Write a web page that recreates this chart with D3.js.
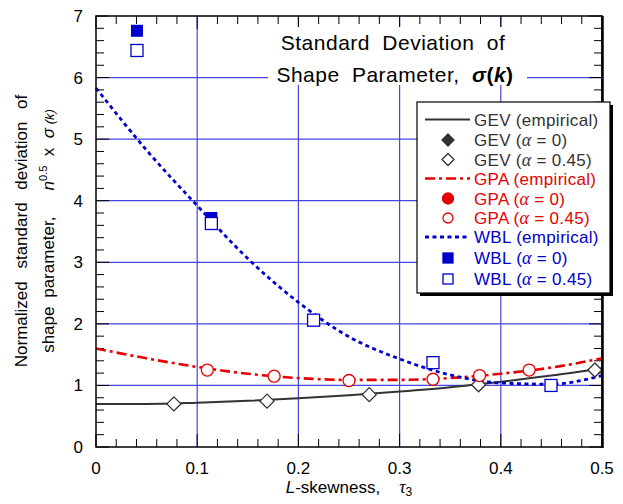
<!DOCTYPE html>
<html><head><meta charset="utf-8">
<script src="https://cdn.jsdelivr.net/npm/d3@7"></script>
<style>body{margin:0;background:#fff} svg{display:block;font-family:"Liberation Sans",Arial,sans-serif}</style>
</head><body><svg id="c" width="623" height="504"></svg>
<script>
// ---------- data ----------
const tauGrid = [0, 0.05, 0.1, 0.15, 0.2, 0.25, 0.3, 0.35, 0.4, 0.45, 0.5];
const gevEmp  = [0.70, 0.70, 0.72, 0.75, 0.79, 0.84, 0.90, 0.97, 1.06, 1.16, 1.28];
const gpaEmp  = [1.60, 1.44, 1.30, 1.19, 1.12, 1.09, 1.09, 1.12, 1.19, 1.29, 1.44];
const wblEmp  = [5.83, 4.82, 3.92, 3.06, 2.35, 1.79, 1.43, 1.17, 1.04, 1.02, 1.16];

const gevTau45 = [0.077, 0.169, 0.270, 0.378, 0.493];
const gevSd45  = [0.70, 0.745, 0.85, 1.01, 1.25];
const gpaTau45 = [0.110, 0.176, 0.250, 0.333, 0.379, 0.428];
const gpaSd45  = [1.25, 1.15, 1.08, 1.10, 1.16, 1.25];
const wblTau0  = [0.0405, 0.114];
const wblSd0   = [6.76, 3.72];
const wblTau45 = [0.0405, 0.114, 0.215, 0.333, 0.4496];
const wblSd45  = [6.44, 3.63, 2.06, 1.37, 1.0];

const xTicks = [0, 0.1, 0.2, 0.3, 0.4, 0.5];
const yTicks = [0, 1, 2, 3, 4, 5, 6, 7];
const xTickLabels = ["0", "0.1", "0.2", "0.3", "0.4", "0.5"];
const yTickLabels = ["0", "1", "2", "3", "4", "5", "6", "7"];

// ---------- layout ----------
const svg = d3.select("#c");
const L = 96, R = 602, T = 16, B = 447;
const x = d3.scaleLinear().domain([0, 0.5]).range([L, R]);
const y = d3.scaleLinear().domain([0, 7]).range([B, T]);
const GRID = "#4646e0", GEVC = "#333333", GPAC = "#e60000", WBLC = "#0000cc";

// grid
svg.append("g").selectAll("line").data(xTicks.slice(1, -1)).join("line")
  .attr("x1", d => x(d)).attr("x2", d => x(d)).attr("y1", T).attr("y2", B)
  .attr("stroke", GRID).attr("stroke-width", 1.2);
svg.append("g").selectAll("line").data(yTicks.slice(1, -1)).join("line")
  .attr("y1", d => y(d)).attr("y2", d => y(d)).attr("x1", L).attr("x2", R)
  .attr("stroke", GRID).attr("stroke-width", 1.2);

// ticks (inside, all four sides)
const xMinor = d3.range(0, 0.5001, 0.02);
const yMinor = d3.range(0, 7.001, 0.2);
const tk = svg.append("g").attr("stroke", "#000").attr("stroke-width", 1);
xMinor.forEach(v => {
  const major = xTicks.some(t => Math.abs(t - v) < 1e-6);
  const len = major ? 13 : 8;
  tk.append("line").attr("x1", x(v)).attr("x2", x(v)).attr("y1", B).attr("y2", B - len);
  tk.append("line").attr("x1", x(v)).attr("x2", x(v)).attr("y1", T).attr("y2", T + len);
});
yMinor.forEach(v => {
  const major = yTicks.some(t => Math.abs(t - v) < 1e-6);
  const len = major ? 13 : 8;
  tk.append("line").attr("y1", y(v)).attr("y2", y(v)).attr("x1", L).attr("x2", L + len);
  tk.append("line").attr("y1", y(v)).attr("y2", y(v)).attr("x1", R).attr("x2", R - len);
});

// title background + title
svg.append("rect").attr("x", 268).attr("y", 27).attr("width", 259).attr("height", 58).attr("fill", "#fff");
const title = svg.append("text").attr("text-anchor", "middle").attr("font-size", 21)
  .attr("letter-spacing", 0.5).attr("word-spacing", 6).attr("fill", "#000");
title.append("tspan").attr("x", 393).attr("y", 50).text("Standard Deviation of");
const t2 = title.append("tspan").attr("x", 395).attr("y", 82);
t2.text("Shape Parameter, ");
title.append("tspan").attr("font-weight", "bold").attr("font-style", "italic").text("σ");
title.append("tspan").attr("font-weight", "bold").text("(");
title.append("tspan").attr("font-weight", "bold").attr("font-style", "italic").text("k");
title.append("tspan").attr("font-weight", "bold").text(")");

// curves
const line = d3.line().x(d => x(d[0])).y(d => y(d[1])).curve(d3.curveMonotoneX);
svg.append("path").datum(tauGrid.map((t, i) => [t, gevEmp[i]])).attr("d", line)
  .attr("fill", "none").attr("stroke", GEVC).attr("stroke-width", 2);
svg.append("path").datum(tauGrid.map((t, i) => [t, gpaEmp[i]])).attr("d", line)
  .attr("fill", "none").attr("stroke", GPAC).attr("stroke-width", 2.6).attr("stroke-dasharray", "10,4,3,4");
svg.append("path").datum(tauGrid.map((t, i) => [t, wblEmp[i]])).attr("d", line)
  .attr("fill", "none").attr("stroke", WBLC).attr("stroke-width", 2.8).attr("stroke-dasharray", "4,3.5");

// markers
const diamond = (s) => `M0,${-s}L${s},0L0,${s}L${-s},0Z`;
svg.append("g").selectAll("path").data(gevTau45.map((t, i) => [t, gevSd45[i]])).join("path")
  .attr("transform", d => `translate(${x(d[0])},${y(d[1])})`).attr("d", diamond(7))
  .attr("fill", "#fff").attr("stroke", GEVC).attr("stroke-width", 1.3);
svg.append("g").selectAll("circle").data(gpaTau45.map((t, i) => [t, gpaSd45[i]])).join("circle")
  .attr("cx", d => x(d[0])).attr("cy", d => y(d[1])).attr("r", 6)
  .attr("fill", "#fff").attr("stroke", GPAC).attr("stroke-width", 1.3);
svg.append("g").selectAll("rect").data(wblTau0.map((t, i) => [t, wblSd0[i]])).join("rect")
  .attr("x", d => x(d[0]) - 6).attr("y", d => y(d[1]) - 6).attr("width", 12).attr("height", 12)
  .attr("fill", WBLC);
svg.append("g").selectAll("rect").data(wblTau45.map((t, i) => [t, wblSd45[i]])).join("rect")
  .attr("x", d => x(d[0]) - 6).attr("y", d => y(d[1]) - 6).attr("width", 12).attr("height", 12)
  .attr("fill", "#fff").attr("stroke", WBLC).attr("stroke-width", 1.3);

// frame
svg.append("rect").attr("x", L).attr("y", T).attr("width", R - L).attr("height", B - T)
  .attr("fill", "none").attr("stroke", "#000").attr("stroke-width", 1.5);
svg.append("line").attr("x1", R + 0.5).attr("x2", R + 0.5).attr("y1", T).attr("y2", B + 1)
  .attr("stroke", "#000").attr("stroke-width", 2.5);

// tick labels
svg.append("g").attr("font-size", 17).attr("text-anchor", "middle").selectAll("text")
  .data(xTicks).join("text").attr("x", d => x(d)).attr("y", 474).text((d, i) => xTickLabels[i]);
svg.append("g").attr("font-size", 17).attr("text-anchor", "end").selectAll("text")
  .data(yTicks).join("text").attr("x", 83).attr("y", d => y(d) + 6).text((d, i) => yTickLabels[i]);

// x label
const xl = svg.append("text").attr("x", 349).attr("y", 493).attr("text-anchor", "middle").attr("font-size", 17);
xl.append("tspan").attr("font-style", "italic").text("L");
xl.append("tspan").text("-skewness,\u00a0\u00a0\u00a0\u00a0");
xl.append("tspan").attr("font-style", "italic").attr("font-family", "'Liberation Serif',serif").attr("font-size", 18).text("τ");
xl.append("tspan").attr("font-size", 12).attr("dy", 3).text("3");

// y label
const yl = svg.append("g").attr("transform", "translate(0,231) rotate(-90)");
yl.append("text").attr("x", 0).attr("y", 27).attr("text-anchor", "middle").attr("font-size", 17)
  .attr("word-spacing", 8).text("Normalized standard deviation of");
const y2 = yl.append("text").attr("x", 0).attr("y", 54).attr("text-anchor", "middle").attr("font-size", 17);
y2.append("tspan").attr("word-spacing", 4).text("shape parameter,\u00a0\u00a0\u00a0");
y2.append("tspan").attr("font-style", "italic").text("n");
y2.append("tspan").attr("font-size", 11).attr("dy", -7).text("0.5");
y2.append("tspan").attr("dy", 7).text("\u00a0\u00a0x\u00a0\u00a0");
y2.append("tspan").attr("font-style", "italic").text("σ");
y2.append("tspan").attr("font-style", "italic").attr("font-size", 13).text("\u00a0(k)");

// legend
const lx = 417, ly = 102, lw = 193, lh = 191;
svg.append("rect").attr("x", lx + 3).attr("y", ly + 3).attr("width", lw).attr("height", lh).attr("fill", "#000");
svg.append("rect").attr("x", lx).attr("y", ly).attr("width", lw).attr("height", lh)
  .attr("fill", "#fff").attr("stroke", "#000").attr("stroke-width", 1.2);
const items = [
  {name: "GEV", kind: "emp", color: GEVC, mark: "line", dash: null, w: 2},
  {name: "GEV", kind: "0", color: GEVC, mark: "diamond", fill: true},
  {name: "GEV", kind: "0.45", color: GEVC, mark: "diamond", fill: false},
  {name: "GPA", kind: "emp", color: GPAC, mark: "line", dash: "10,4,3,4", w: 2.6},
  {name: "GPA", kind: "0", color: GPAC, mark: "circle", fill: true},
  {name: "GPA", kind: "0.45", color: GPAC, mark: "circle", fill: false},
  {name: "WBL", kind: "emp", color: WBLC, mark: "line", dash: "4,3.5", w: 2.8},
  {name: "WBL", kind: "0", color: WBLC, mark: "square", fill: true},
  {name: "WBL", kind: "0.45", color: WBLC, mark: "square", fill: false}
];
const rowY = [119.5, 140, 159.5, 178.5, 198.5, 218, 237, 258, 279];
const mx = 448;
items.forEach((it, i) => {
  const cy = rowY[i];
  if (it.mark === "line") {
    svg.append("line").attr("x1", 425).attr("x2", 470).attr("y1", cy).attr("y2", cy)
      .attr("stroke", it.color).attr("stroke-width", it.w).attr("stroke-dasharray", it.dash);
  } else if (it.mark === "diamond") {
    svg.append("path").attr("transform", `translate(${mx},${cy})`).attr("d", diamond(6))
      .attr("fill", it.fill ? it.color : "#fff").attr("stroke", it.color).attr("stroke-width", 1.3);
  } else if (it.mark === "circle") {
    svg.append("circle").attr("cx", mx).attr("cy", cy).attr("r", it.fill ? 5.5 : 5)
      .attr("fill", it.fill ? it.color : "#fff").attr("stroke", it.color).attr("stroke-width", 1.3);
  } else {
    svg.append("rect").attr("x", mx - 5).attr("y", cy - 5).attr("width", 10).attr("height", 10)
      .attr("fill", it.fill ? it.color : "#fff").attr("stroke", it.color).attr("stroke-width", 1.3);
  }
  const t = svg.append("text").attr("x", 474).attr("y", cy + 6).attr("font-size", 17)
    .attr("fill", it.color).attr("letter-spacing", 0.3);
  if (it.kind === "emp") {
    t.text(it.name + " (empirical)");
  } else {
    t.append("tspan").text(it.name + " (");
    t.append("tspan").attr("font-style", "italic").attr("font-family", "'Liberation Serif',serif").attr("font-size", 18).text("α");
    t.append("tspan").text(" = " + it.kind + ")");
  }
});
</script></body></html>
